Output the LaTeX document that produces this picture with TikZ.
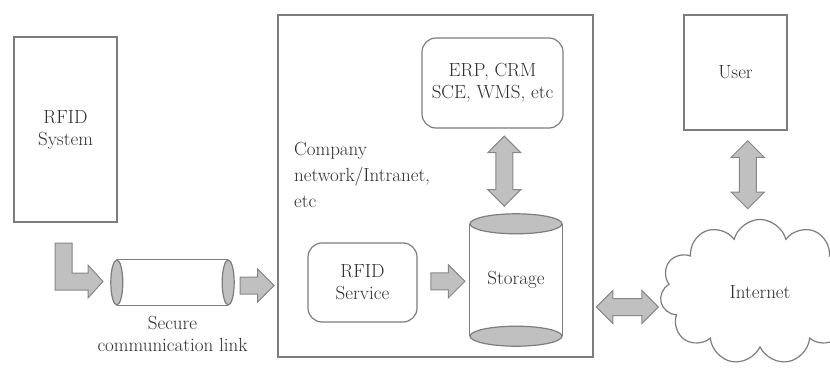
\documentclass[tikz,border=0pt]{standalone}
\usepackage{fontspec}
\usetikzlibrary{calc,positioning,shapes.arrows,shapes.symbols}
\definecolor{boxline}{RGB}{125,125,125}
\definecolor{arrowline}{RGB}{135,135,135}
\definecolor{arrowfill}{RGB}{192,192,192}
\definecolor{textgray}{RGB}{45,45,45}
\tikzset{
  plainbox/.style={draw=boxline,line width=1.2pt,inner sep=0pt,align=center,text=textgray,font=\fontsize{19}{22}\selectfont},
  roundbox/.style={plainbox,rounded corners=14pt},
  labeltext/.style={font=\fontsize{19}{22}\selectfont,text=textgray,align=center,inner sep=0pt},
  endcap/.style={draw=boxline,fill=arrowfill,line width=1.2pt},
  sideline/.style={draw=boxline,line width=1.2pt},
  fatarrow/.style={single arrow,draw=arrowline,fill=arrowfill,line width=1pt,inner xsep=0pt,inner ysep=8pt,single arrow head extend=8pt,minimum height=#1},
  fatdouble/.style={double arrow,draw=arrowline,fill=arrowfill,line width=1pt,inner xsep=0pt,inner ysep=8pt,double arrow head extend=8pt,minimum height=#1}
}
\begin{document}
\begin{tikzpicture}[x=1pt,y=1pt,yscale=-1,xscale=1]
\useasboundingbox (0,0) rectangle (830,369);

%Shape: RFID system box
\node[plainbox,minimum width=103pt,minimum height=185pt] (sys) at (65.5,129.5) {RFID\\System};

%Shape: L arrow from the system
\filldraw[draw=arrowline,fill=arrowfill,line width=1pt] (55,243) -- (72,243) -- (72,273) -- (88,273) -- (88,265) -- (103,281.5) -- (88,298) -- (88,290) -- (55,290) -- cycle;

%Shape: secure link pipe
\node[inner sep=0pt,minimum width=111pt,minimum height=45pt] (link) at (172.5,282.5) {};
\draw[sideline] (link.north west) -- (link.north east) (link.south west) -- (link.south east);
\draw[endcap] (link.west) ellipse (6pt and 22.5pt);
\draw[endcap] (link.east) ellipse (6pt and 22.5pt);
% Text Node
\node[labeltext,below=11pt of link] (linklabel) {Secure\\communication link};

%Shape: company network frame
\node[plainbox,minimum width=315pt,minimum height=342pt] (company) at (435.5,186) {};
% Text Node
\node[labeltext,align=left,anchor=north west,font=\fontsize{19}{26}\selectfont] (cnet) at (294,142) {Company\\network/Intranet,\\etc};

%Shape: ERP box
\node[roundbox,minimum width=141pt,minimum height=90pt] (erp) at (492.5,83) {ERP, CRM\\SCE, WMS, etc};

%Shape: RFID service box
\node[roundbox,minimum width=109pt,minimum height=79pt] (svc) at (362.5,282.5) {RFID\\Service};

%Shape: storage drum
\node[labeltext,minimum width=92pt,minimum height=112pt] (sto) at (516,280) {Storage};
\draw[sideline] (sto.north west) -- (sto.south west) (sto.north east) -- (sto.south east);
\draw[endcap] (sto.south) ellipse (46pt and 10pt);
\draw[endcap] (sto.north) ellipse (46pt and 10pt);

%Shape: user box
\node[plainbox,minimum width=103pt,minimum height=115pt] (user) at (735.5,72.5) {User};

%Shape: internet cloud
\node[cloud,draw=boxline,line width=1.2pt,cloud puffs=11,cloud ignores aspect,minimum width=200pt,minimum height=145pt,labeltext] (net) at (760,292) {Internet};

%Block arrows
\node[fatarrow=34pt] (linkarrow) at ($(link.east)!0.5!(company.west|-link.east)+(0,3)$) {};
\node[fatarrow=34pt] (svcarrow) at ($(svc.east)!0.5!(sto.west)$) {};
\node[fatdouble=70pt,rotate=90] (erparrow) at ($(erp.south)!0.5!(sto.north)+(0,-5)$) {};
\node[fatdouble=68pt,rotate=90] (userarrow) at ($(user.south)!0.5!(net.north)$) {};
\node[fatdouble=62pt] (netarrow) at ($(company.east|-net.west)!0.5!(net.west)+(0,15)$) {};

\end{tikzpicture}
\end{document}
